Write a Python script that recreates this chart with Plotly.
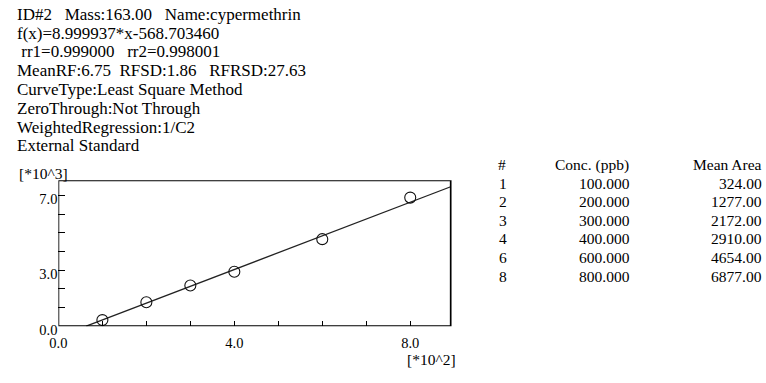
import plotly.graph_objects as go

# ---- data ----
sample_ids = ["1", "2", "3", "4", "6", "8"]
conc_ppb = [100.0, 200.0, 300.0, 400.0, 600.0, 800.0]
mean_area = [324.0, 1277.0, 2172.0, 2910.0, 4654.0, 6877.0]
slope = 8.999937
intercept = -568.703460
header_lines = [
    "ID#2\u00a0\u00a0 Mass:163.00\u00a0\u00a0 Name:cypermethrin",
    "f(x)=8.999937*x-568.703460",
    "\u00a0rr1=0.999000\u00a0\u00a0 rr2=0.998001",
    "MeanRF:6.75\u00a0 RFSD:1.86\u00a0\u00a0 RFRSD:27.63",
    "CurveType:Least Square Method",
    "ZeroThrough:Not Through",
    "WeightedRegression:1/C2",
    "External Standard",
]
x_tick_vals = [0, 1, 2, 3, 4, 5, 6, 7, 8, 9]
x_tick_text = ["0.0", "", "", "", "4.0", "", "", "", "8.0", ""]
y_tick_vals = [0, 1, 2, 3, 4, 5, 6, 7]
y_tick_text = ["0.0", "", "", "3.0", "", "", "", "7.0"]

# ---- scaling ----
X_SCALE = 100.0    # [*10^2]
Y_SCALE = 1000.0   # [*10^3]
X_MAX = 9.0
Y_MAX = 7.8
BOX_RIGHT = 8.92

W, H = 766, 383
FONT = "Liberation Serif, Times New Roman, serif"

def px(xp):
    return xp / W

def py(yp):
    return 1 - yp / H

xs = [c / X_SCALE for c in conc_ppb]
ys = [a / Y_SCALE for a in mean_area]

x0_line = -intercept / slope / X_SCALE
line_x = [x0_line, BOX_RIGHT]
line_y = [(slope * v * X_SCALE + intercept) / Y_SCALE for v in line_x]

fig = go.Figure()
fig.add_trace(go.Scatter(
    x=line_x, y=line_y, mode="lines",
    line=dict(color="#222222", width=1.3),
    showlegend=False, hoverinfo="skip",
))
fig.add_trace(go.Scatter(
    x=xs, y=ys, mode="markers",
    marker=dict(symbol="circle-open", size=11, color="#111111", line=dict(width=1.1, color="#111111")),
    showlegend=False,
))

# plot frame
fig.add_shape(type="rect", xref="x", yref="y", x0=0, y0=0, x1=BOX_RIGHT, y1=Y_MAX,
              line=dict(color="black", width=1.7), layer="above")

annotations = []
# header text lines
line_centers = [15.3, 34.5, 53.5, 73, 92.3, 112, 131.3, 150.6]
for t, yc in zip(header_lines, line_centers):
    annotations.append(dict(text=t, x=px(7), y=py(yc), xref="paper", yref="paper",
                            xanchor="left", yanchor="middle", showarrow=False, borderpad=0,
                            font=dict(family=FONT, size=17, color="black")))

# axis unit labels
annotations.append(dict(text="[*10^3]", x=px(9), y=py(179), xref="paper", yref="paper",
                        xanchor="left", yanchor="middle", showarrow=False, borderpad=0,
                        font=dict(family=FONT, size=15.5, color="black")))
annotations.append(dict(text="[*10^2]", x=px(453), y=py(371), xref="paper", yref="paper",
                        xanchor="right", yanchor="middle", showarrow=False, borderpad=0,
                        font=dict(family=FONT, size=15.5, color="black")))

# table
TFONT = dict(family=FONT, size=15.5, color="black")
hdr_y = 170
annotations.append(dict(text="#", x=px(494), y=py(hdr_y), xref="paper", yref="paper",
                        xanchor="left", yanchor="middle", showarrow=False, borderpad=0, font=TFONT))
annotations.append(dict(text="Conc. (ppb)", x=px(628), y=py(hdr_y), xref="paper", yref="paper",
                        xanchor="right", yanchor="middle", showarrow=False, borderpad=0, font=TFONT))
annotations.append(dict(text="Mean Area", x=px(763), y=py(hdr_y), xref="paper", yref="paper",
                        xanchor="right", yanchor="middle", showarrow=False, borderpad=0, font=TFONT))
row_y0, row_dy = 189, 19.2
for i, (sid, c, a) in enumerate(zip(sample_ids, conc_ppb, mean_area)):
    yc = row_y0 + i * row_dy
    annotations.append(dict(text=sid, x=px(495), y=py(yc), xref="paper", yref="paper",
                            xanchor="left", yanchor="middle", showarrow=False, borderpad=0, font=TFONT))
    annotations.append(dict(text=f"{c:.3f}", x=px(629), y=py(yc), xref="paper", yref="paper",
                            xanchor="right", yanchor="middle", showarrow=False, borderpad=0, font=TFONT))
    annotations.append(dict(text=f"{a:.2f}", x=px(763), y=py(yc), xref="paper", yref="paper",
                            xanchor="right", yanchor="middle", showarrow=False, borderpad=0, font=TFONT))

plot_left, plot_right = 50, 450.5
plot_top, plot_bottom = 186.2, 336.7

fig.update_layout(
    width=W, height=H, autosize=False,
    margin=dict(l=0, r=0, t=0, b=0, pad=0),
    paper_bgcolor="white", plot_bgcolor="white",
    showlegend=False,
    annotations=annotations,
    xaxis=dict(
        domain=[px(plot_left), px(plot_right)], range=[0, X_MAX],
        tickmode="array", tickvals=x_tick_vals, ticktext=x_tick_text,
        ticks="inside", ticklen=5, tickwidth=1.3, tickcolor="black",
        showgrid=False, zeroline=False, showline=False,
        tickfont=dict(family=FONT, size=14.5, color="black"),
        ticklabelstandoff=6,
        fixedrange=True,
    ),
    yaxis=dict(
        domain=[py(plot_bottom), py(plot_top)], range=[0, Y_MAX],
        tickmode="array", tickvals=y_tick_vals, ticktext=y_tick_text,
        ticks="inside", ticklen=7, tickwidth=1.3, tickcolor="black",
        showgrid=False, zeroline=False, showline=False,
        tickfont=dict(family=FONT, size=14.5, color="black"),
        ticklabelshift=4,
        fixedrange=True,
    ),
)

fig.write_html("out.html", config={"displayModeBar": False},
               post_script="document.body.style.margin='0px';")
